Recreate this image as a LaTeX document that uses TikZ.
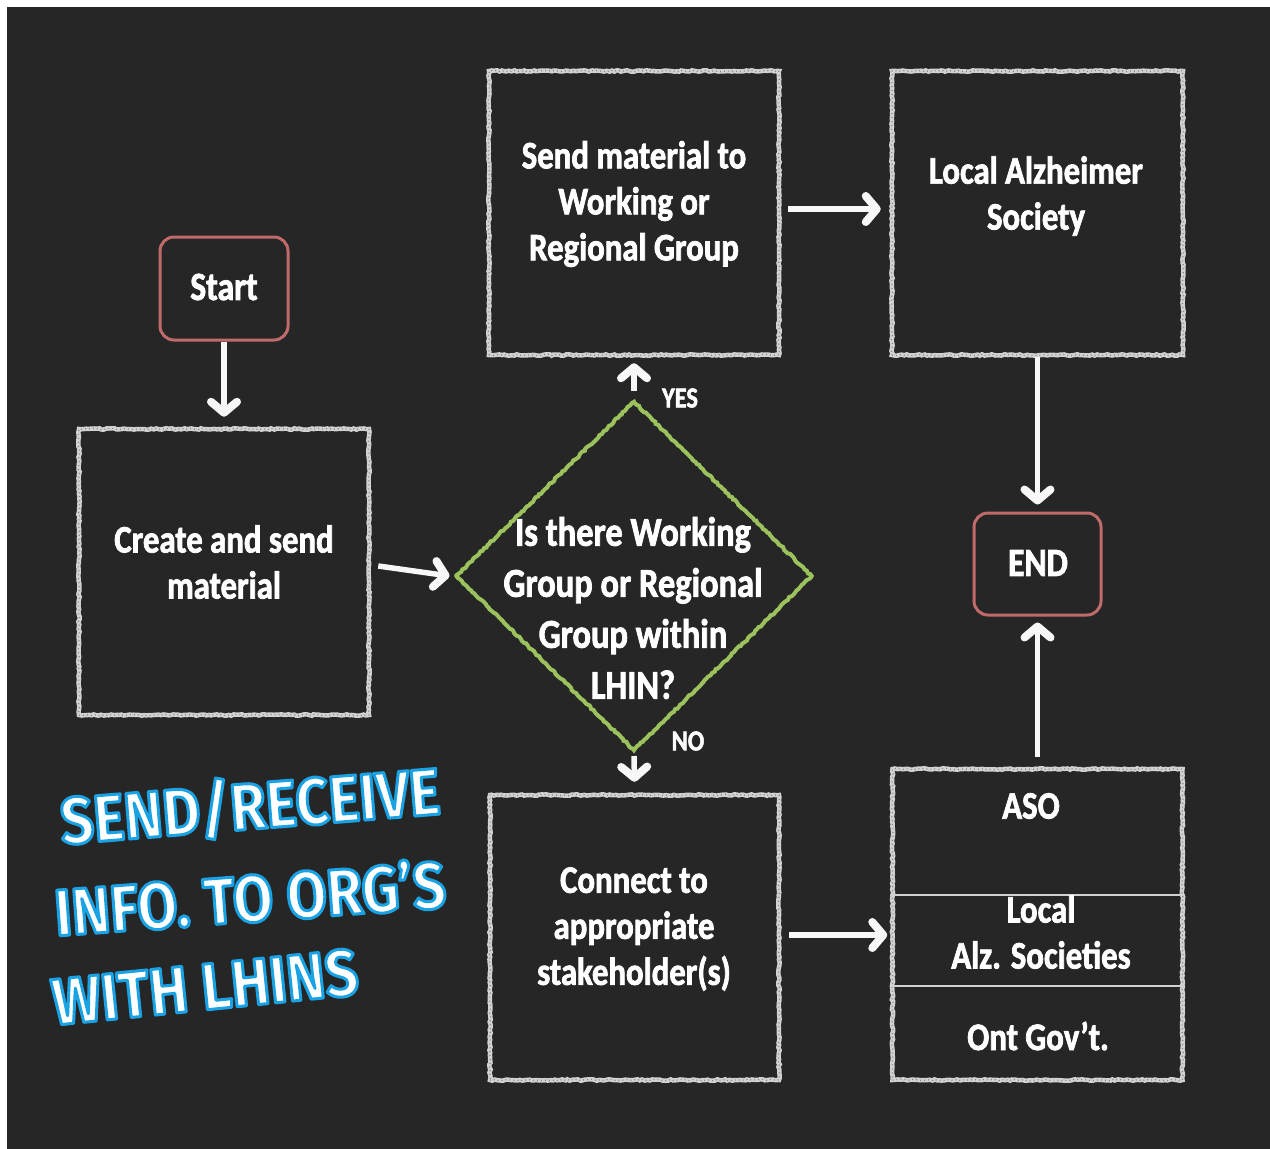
\documentclass[tikz,border=0pt]{standalone}
\usepackage{fontspec}
\setmainfont{Carlito}
\newfontfamily\boxfont{Carlito Bold}[FakeStretch=0.84, FakeBold=1.8]
\newfontfamily\handfont{Fira Sans Bold}[FakeStretch=0.88]
\usetikzlibrary{shapes.geometric,arrows.meta,decorations.pathmorphing}
\definecolor{board}{HTML}{262626}
\definecolor{chalkc}{HTML}{D2D2D2}
\definecolor{pinkc}{HTML}{C06A6A}
\definecolor{greenc}{HTML}{9CC25E}
\newcommand\chalkon{\special{pdf:literal direct 0.10 0.64 0.90 RG 3 w 1 j 2 Tr}}
\newcommand\chalkoff{\special{pdf:literal direct 0 Tr}}
\begin{document}
\begin{tikzpicture}[x=1pt,y=-1pt,
  chalk/.style={draw=chalkc, line width=4.5pt, decorate,
    decoration={random steps,segment length=2.5pt,amplitude=0.7pt},
    postaction={draw=chalkc!55!board, line width=1.2pt, dash pattern=on 1pt off 3pt}},
  box/.style={chalk, rectangle, inner sep=0pt},
  term/.style={draw=pinkc, line width=3pt, rectangle, rounded corners=14pt, inner sep=0pt},
  decision/.style={draw=greenc, line width=4pt, diamond, inner sep=0pt, decorate,
    decoration={random steps,segment length=2.5pt,amplitude=0.8pt}},
  txt/.style={text=white, align=center, inner sep=0pt, font=\boxfont\fontsize{39}{46}\selectfont},
  dtxt/.style={text=white, align=center, inner sep=0pt, font=\boxfont\fontsize{41}{51}\selectfont},
  lbl/.style={text=white, inner sep=0pt, font=\boxfont\fontsize{29}{30}\selectfont},
  divider/.style={draw=chalkc, line width=2.5pt},
  arr/.style={draw=white!94!gray, line width=5.5pt,
    -{Straight Barb[length=11pt,width=26pt,line width=8pt,line cap=round,line join=round]}},
  hand/.style={text=white, inner sep=0pt, font=\handfont\fontsize{66}{66}\selectfont}]
\useasboundingbox (0,0) rectangle (1270,1149);
\fill[white] (0,0) rectangle (1270,1149);
\fill[board] (7,7) rectangle (1270,1149);

% boxes
\node[term, minimum width=128pt, minimum height=103pt] (start) at (224,288.5) {};
\node[box, minimum width=290pt, minimum height=286pt] (create) at (224,572) {};
\node[box, minimum width=290pt, minimum height=284pt] (send) at (634,213) {};
\node[box, minimum width=291pt, minimum height=284pt] (local) at (1037.5,213) {};
\node[decision, minimum width=357pt, minimum height=350pt] (dia) at (634,576) {};
\node[term, minimum width=127pt, minimum height=102pt] (end) at (1037.5,564) {};
\node[box, minimum width=289pt, minimum height=285pt] (connect) at (634.5,937.5) {};
\node[box, minimum width=290pt, minimum height=311pt] (aso) at (1037.5,924.5) {};
\draw[divider] ([yshift=29.5pt]aso.west) -- ([yshift=29.5pt]aso.east);
\draw[divider] ([yshift=-61.5pt]aso.west) -- ([yshift=-61.5pt]aso.east);

% texts
\node[txt] (tstart) at (224,287) {\fontsize{40}{46}\selectfont Start};
\node[txt] (tcreate) at (224,562) {Create and send\\material};
\node[txt] (tsend) at (634,204) {Send material to\\Working or\\Regional Group};
\node[txt] (tlocal) at (1036,196) {Local Alzheimer\\Society};
\node[dtxt] (tdia) at (633,608) {Is there Working\\Group or Regional\\Group within\\LHIN?};
\node[txt] (tend) at (1038,563) {\fontsize{40}{46}\selectfont END};
\node[txt] (tconnect) at (634,929) {Connect to\\appropriate\\stakeholder(s)};
\node[txt] (taso) at (1031,806) {ASO};
\node[txt] (tlas) at (1041,932) {Local\\Alz. Societies};
\node[txt] (tgov) at (1038,1036) {Ont Gov’t.};
\node[lbl] (yes) at (680,398) {YES};
\node[lbl] (no) at (688,741) {NO};

% connectors
\draw[arr] (start.south) -- ([yshift=10pt]create.north);
\draw[arr] ([xshift=7pt,yshift=6pt]create.east) -- ([xshift=-4pt]dia.west);
\draw[arr] ([yshift=8pt]dia.north) -- ([yshift=-6pt]send.south);
\draw[arr] ([yshift=-3pt]dia.south) -- ([yshift=11pt]connect.north);
\draw[arr] ([xshift=7pt,yshift=4pt]send.east) -- ([xshift=-9pt,yshift=4pt]local.west);
\draw[arr] (local.south) -- ([yshift=7pt]end.north);
\draw[arr] ([yshift=10pt]aso.north) -- ([yshift=-6pt]end.south);
\draw[arr] ([xshift=8pt,yshift=2.5pt]connect.east) -- ([xshift=-3pt,yshift=-10.5pt]aso.west);

% handwritten note
\node[hand, rotate=4.6] (h1) at (250,806) {\chalkon SEND/RECEIVE\chalkoff};
\node[hand, rotate=4.2] (h2) at (250,897) {\chalkon INFO. TO ORG’S\chalkoff};
\node[hand, rotate=5.8] (h3) at (205,987) {\chalkon WITH LHINS\chalkoff};
\end{tikzpicture}
\end{document}
